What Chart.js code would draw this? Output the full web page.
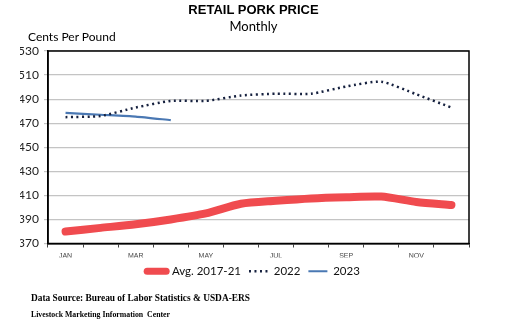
<!DOCTYPE html>
<html>
  <head>
    <title>Retail Pork Price</title>
    <script src="https://cdn.jsdelivr.net/npm/chart.js"></script>
    <style>
      body { margin: 0; background: #fff; }
      #wrap { position: relative; width: 507px; height: 326px; overflow: hidden; }
      #wrap canvas { position: absolute; left: 0; top: 0; }
      .txt { position: absolute; white-space: nowrap; color: #000; }
      .title { left: 0; width: 507px; text-align: center; top: 2px; font: bold 13px "Liberation Sans", Arial, sans-serif; }
      .sub { left: 0; width: 507px; text-align: center; top: 18px; font: 13px Lato, sans-serif; }
      .unit { left: 28px; top: 29px; font: 12px Lato, sans-serif; }
      .src { left: 31px; top: 293px; font: bold 9.4px "Liberation Serif", serif; }
      .org { left: 31px; top: 310px; font: bold 7.8px "Liberation Serif", serif; }
    </style>
  </head>
  <body>
    <div id="wrap">
      <canvas id="chart" width="507" height="326"></canvas>
      <div class="txt title">RETAIL PORK PRICE</div>
      <div class="txt sub">Monthly</div>
      <div class="txt unit">Cents Per Pound</div>
      <div class="txt src">Data Source: Bureau of Labor Statistics &amp; USDA-ERS</div>
      <div class="txt org">Livestock Marketing Information&nbsp; Center</div>
    </div>

    <script>
      const months = ["JAN", "FEB", "MAR", "APR", "MAY", "JUN", "JUL", "AUG", "SEP", "OCT", "NOV", "DEC"];
      const avg1721 = [380, 383, 386, 390, 395, 403, 405.5, 407.5, 408.5, 409, 404.5, 402];
      const y2022 = [475, 476, 483, 488.5, 488.5, 493, 494.5, 494.5, 500.5, 504.5, 494, 483];
      const y2023 = [478.5, 477, 475.5, 472.5];
      const yTicks = [370, 390, 410, 430, 450, 470, 490, 510, 530];

      // box around plot area
      const frame = {
        id: "frame",
        afterDraw(chart) {
          const a = chart.chartArea;
          const ctx = chart.ctx;
          ctx.save();
          ctx.strokeStyle = "#000";
          ctx.lineWidth = 1.5;
          ctx.strokeRect(a.left, a.top, a.right - a.left, a.bottom - a.top);
          ctx.restore();
        },
      };

      new Chart(document.getElementById("chart"), {
        type: "line",
        data: {
          labels: months,
          datasets: [
            {
              label: "Avg. 2017-21",
              data: avg1721,
              borderColor: "#f04b4f",
              backgroundColor: "#f04b4f",
              borderWidth: 8,
              borderCapStyle: "round",
              borderJoinStyle: "round",
              tension: 0.25,
              pointRadius: 0,
            },
            {
              label: "2022",
              data: y2022,
              borderColor: "#16213f",
              backgroundColor: "#16213f",
              borderWidth: 2.5,
              borderDash: [2, 3.5],
              tension: 0.2,
              pointRadius: 0,
            },
            {
              label: "2023",
              data: y2023,
              borderColor: "#4a78b3",
              backgroundColor: "#4a78b3",
              borderWidth: 2.2,
              tension: 0.2,
              pointRadius: 0,
            },
          ],
        },
        options: {
          responsive: false,
          animation: false,
          layout: { padding: { top: 51, right: 20, left: 20, bottom: 39 } },
          plugins: {
            title: { display: false },
            tooltip: { enabled: false },
            legend: {
              position: "bottom",
              labels: {
                usePointStyle: true,
                pointStyleWidth: 19,
                boxHeight: 8,
                padding: 8,
                color: "#111",
                font: { family: "Lato", size: 11.5 },
                generateLabels: (chart) =>
                  chart.data.datasets.map((ds, i) => ({
                    text: ds.label,
                    datasetIndex: i,
                    pointStyle: "line",
                    strokeStyle: ds.borderColor,
                    fillStyle: ds.borderColor,
                    fontColor: "#111",
                    lineWidth: i === 0 ? 7 : ds.borderWidth,
                    lineDash: ds.borderDash || [],
                    lineCap: i === 0 ? "round" : "butt",
                    hidden: false,
                  })),
              },
            },
          },
          scales: {
            x: {
              offset: true,
              grid: { display: true, drawOnChartArea: false, offset: true, tickLength: 4, color: "#444" },
              border: { color: "#000", width: 1.5 },
              ticks: {
                autoSkip: false,
                maxRotation: 0,
                padding: 4,
                color: "#444",
                font: { family: "Liberation Sans", size: 7 },
                callback: (v, i) => (i % 2 === 0 ? months[i] : ""),
              },
              afterFit: (s) => { s.height = 14; },
            },
            y: {
              min: 370,
              max: 530,
              afterBuildTicks: (s) => { s.ticks = yTicks.map((v) => ({ value: v })); },
              grid: { color: "#c4c4c4", lineWidth: 1.2, tickLength: 4 },
              border: { color: "#000", width: 1.5 },
              ticks: { padding: 5, color: "#222", font: { family: "Lato", size: 12 } },
              afterFit: (s) => { s.width = 28; },
            },
            // empty spacer on the right so the legend centres like the reference
            yRight: {
              position: "right",
              display: true,
              grid: { display: false },
              border: { display: false },
              ticks: { display: false },
              afterFit: (s) => { s.width = 18; },
            },
          },
        },
        plugins: [frame],
      });
    </script>
  </body>
</html>
